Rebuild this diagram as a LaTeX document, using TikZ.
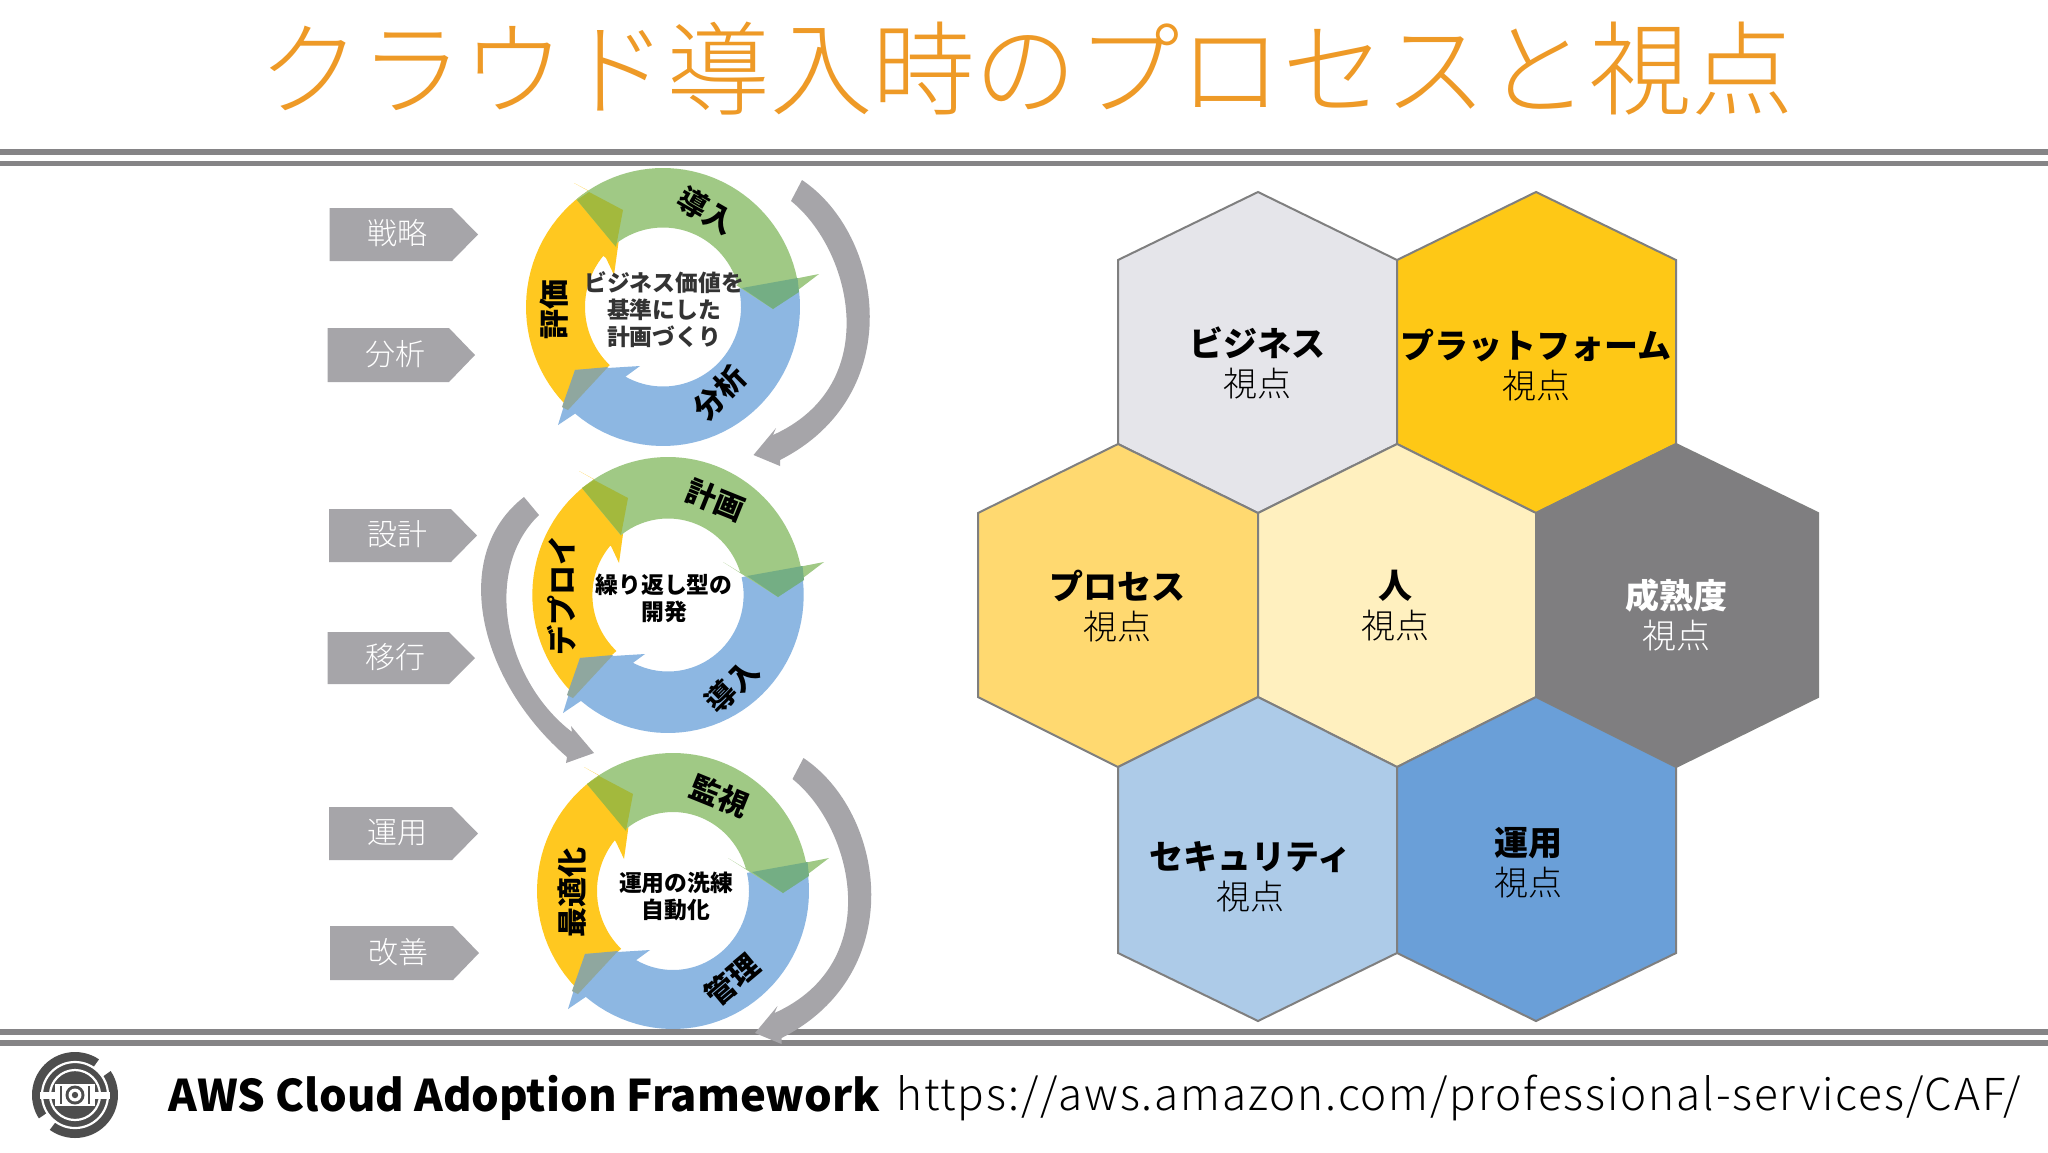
\documentclass[tikz,border=0pt]{standalone}
\usepackage{fontspec}
\setmainfont{Noto Sans CJK JP}
\newfontfamily\jplight{Noto Sans CJK JP Light}
\newfontfamily\jpurl[LetterSpace=4.3]{Noto Sans CJK JP Light}
\definecolor{ringG}{HTML}{A0C985}
\definecolor{ringB}{HTML}{8DB7E2}
\definecolor{ringY}{HTML}{FFC820}
\definecolor{ovGY}{HTML}{A3B93D}
\definecolor{ovGB}{HTML}{74AE84}
\definecolor{ovBY}{HTML}{8FA79F}
\definecolor{arrGray}{HTML}{A6A5A9}
\definecolor{ruleGray}{HTML}{858486}
\definecolor{hexLine}{HTML}{7F7F7F}
\definecolor{titleOr}{HTML}{EE9A27}
\definecolor{logoDark}{HTML}{4D4D4D}
\tikzset{
  chevtext/.style={inner sep=0pt,text=white,font=\jplight\fontsize{15}{18}\selectfont},
  ringlabel/.style={inner sep=0pt,text=black,font=\bfseries\fontsize{15}{17}\selectfont},
  ringcenter/.style={inner sep=0pt,align=center,font=\bfseries\fontsize{11.4}{13.5}\selectfont},
  hextext/.style={inner sep=0pt,align=center,text=black,font=\fontsize{17}{20}\selectfont},
  hexfill/.style={draw=hexLine,line width=1pt,line join=miter},
  ruleline/.style={fill=ruleGray,draw=none},
}
% chevron: name,x0,xflat,xtip,ytop,ybottom,text
\newcommand{\chevbox}[7]{%
  \fill[arrGray] (#2,#5) -- (#3,#5) -- (#4,{(#5+#6)/2}) -- (#3,#6) -- (#2,#6) -- cycle;
  \node[chevtext] (#1) at ({(#2+#3)/2+7},{(#5+#6)/2-1}) {#7};
}
% ring: cx,cy,rx,ry,irx,iry,green head inner side
\newcommand{\cyclering}[7]{%
\begin{scope}[shift={(#1,#2)}]
  \fill[ringY] (-101,100) -- plot[domain=135.7:236.9,samples=30] ({#3*cos(\x)},{#4*sin(\x)})
     -- (-89,-124) -- (-40,-97) -- (-49,-32) -- (-57,-49)
     -- plot[domain=220:133,samples=30] ({#5*cos(\x)},{#6*sin(\x)}) -- cycle;
  \fill[ringB] (79,-19) -- (134.5,-29) -- plot[domain=-6.2:129.9,samples=40] ({#3*cos(\x)},{#4*sin(\x)})
     -- (-105,118) -- (-88,63) -- (-23,59) -- (-38,70)
     -- plot[domain=118.9:-13.3,samples=40] ({#5*cos(\x)},{#6*sin(\x)}) -- cycle;
  \fill[ringG] (-86,-107) -- plot[domain=230.8:348.1,samples=40] ({#3*cos(\x)},{#4*sin(\x)})
     -- (156,-33) -- (110,2) #7
     -- plot[domain=343.5:231.4,samples=40] ({#5*cos(\x)},{#6*sin(\x)}) -- cycle;
  \fill[ovGY] (-86,-107) -- (-74,-115) -- (-40,-97) -- (-47,-60) -- cycle;
  \fill[ovGB] (79,-19) -- (134.5,-29) -- (136,-15) -- (110,2) -- cycle;
  \fill[ovBY] (-55,60) -- (-88,63) -- (-101,100) -- (-95,103) -- cycle;
\end{scope}}
\begin{document}
\begin{tikzpicture}[x=0.5pt,y=-0.5pt]
\useasboundingbox (0,0) rectangle (2048,1152);
\fill[white] (0,0) rectangle (2048,1152);

% title
\node[inner sep=0pt,text=titleOr,font=\jplight\fontsize{51.2}{56}\selectfont] (title) at (1026,69) {クラウド導入時のプロセスと視点};

% rules
\fill[ruleline] (0,149) rectangle (2048,155);
\fill[ruleline] (0,160.5) rectangle (2048,166);
\fill[ruleline] (0,1029) rectangle (2048,1034.5);
\fill[ruleline] (0,1040) rectangle (2048,1046);

% chevrons
\chevbox{c1}{329.5}{452}{478}{208}{261}{戦略}
\chevbox{c2}{327.5}{449}{475}{328}{382}{分析}
\chevbox{c3}{329}{451}{477}{509}{562}{設計}
\chevbox{c4}{327.5}{449}{475}{632}{684}{移行}
\chevbox{c5}{329}{452}{478}{807}{860}{運用}
\chevbox{c6}{330}{453}{479}{926}{980}{改善}

% rings
\cyclering{663}{307}{137}{139}{78}{79.5}{-- (73,-22)}
\cyclering{668}{595}{135.7}{138}{75.6}{76.5}{-- (55,-33) -- (73,-22)}
\cyclering{673}{891}{136}{138}{76}{79}{-- (55,-33) -- (73,-22)}

% big gray arrows
\fill[arrGray] (802,180) .. controls (884,235) and (908,395) .. (780,460) -- (780,466) -- (753.5,455) -- (776,428) -- (773,435)
   .. controls (884,385) and (852,250) .. (791,201) -- cycle;
\begin{scope}[shift={(1.5,578)}]
\fill[arrGray] (802,180) .. controls (884,235) and (908,395) .. (780,460) -- (780,466) -- (753.5,455) -- (776,428) -- (773,435)
   .. controls (884,385) and (852,250) .. (791,201) -- cycle;
\end{scope}
\fill[arrGray] (524,497) .. controls (449,555) and (478,680) .. (567,757) -- (566,763) -- (594,753) -- (571,726) -- (572,732)
   .. controls (504,680) and (482,570) .. (539,515) -- cycle;

% ring texts
\node[ringcenter,text=black!80] (r1c) at (664,310) {ビジネス価値を\\基準にした\\計画づくり};
\node[ringcenter,text=black] (r2c) at (664,598) {繰り返し型の\\開発};
\node[ringcenter,text=black] (r3c) at (676,896) {運用の洗練\\自動化};
\node[ringlabel,rotate=-30] (r1a) at (706,211) {導入};
\node[ringlabel,rotate=90] (r1b) at (554.5,309) {評価};
\node[ringlabel,rotate=45] (r1d) at (720,393) {分析};
\node[ringlabel,rotate=-22] (r2a) at (716,500) {計画};
\node[ringlabel,rotate=90] (r2b) at (562,595) {デプロイ};
\node[ringlabel,rotate=45] (r2d) at (732,686) {導入};
\node[ringlabel,rotate=-22] (r3a) at (720,796) {監視};
\node[ringlabel,rotate=90] (r3b) at (572,892) {最適化};
\node[ringlabel,rotate=40] (r3d) at (732,980) {管理};

% hexagons
\fill[hexfill,fill={rgb,255:red,229;green,229;blue,234}] (1258,192) -- (1397,260) -- (1397,444) -- (1258,513) -- (1118,444) -- (1118,260) -- cycle;
\fill[hexfill,fill={rgb,255:red,254;green,200;blue,22}] (1536,192) -- (1676,260) -- (1676,444) -- (1536,513) -- (1397,444) -- (1397,260) -- cycle;
\fill[hexfill,fill={rgb,255:red,255;green,217;blue,112}] (1118,444) -- (1258,513) -- (1258,697) -- (1118,767) -- (978,697) -- (978,513) -- cycle;
\fill[hexfill,fill={rgb,255:red,255;green,240;blue,191}] (1397,444) -- (1536,513) -- (1536,697) -- (1397,767) -- (1258,697) -- (1258,513) -- cycle;
\fill[hexfill,fill={rgb,255:red,127;green,126;blue,128}] (1676,444) -- (1818,513) -- (1818,697) -- (1676,767) -- (1536,697) -- (1536,513) -- cycle;
\fill[hexfill,fill={rgb,255:red,173;green,203;blue,232}] (1258,697) -- (1397,767) -- (1397,953) -- (1258,1021) -- (1118,953) -- (1118,767) -- cycle;
\fill[hexfill,fill={rgb,255:red,106;green,159;blue,216}] (1536,697) -- (1676,767) -- (1676,953) -- (1536,1021) -- (1397,953) -- (1397,767) -- cycle;

\node[hextext] (h1) at (1257,363) {{\bfseries ビジネス}\\{\jplight 視点}};
\node[hextext] (h2) at (1536,365) {{\bfseries プラットフォーム}\\{\jplight 視点}};
\node[hextext] (h3) at (1117,606) {{\bfseries プロセス}\\{\jplight 視点}};
\node[hextext] (h4) at (1395,606) {{\bfseries 人}\\{\jplight 視点}};
\node[hextext,text=white] (h5) at (1676,615) {{\bfseries 成熟度}\\{\jplight 視点}};
\node[hextext] (h6) at (1250,877) {{\bfseries セキュリティ}\\{\jplight 視点}};
\node[hextext] (h7) at (1528,863) {{\bfseries 運用}\\{\jplight 視点}};

% logo
\begin{scope}[shift={(75,1095)}]
  \fill[logoDark] (0,0) circle (43);
  \draw[white,line width=6pt] plot[domain=-56:-34,samples=10] ({39.5*cos(\x)},{39.5*sin(\x)});
  \draw[white,line width=6pt] plot[domain=126:147,samples=10] ({39.5*cos(\x)},{39.5*sin(\x)});
  \draw[white,line width=1.1pt] (0,0) circle (33);
  \draw[white,line width=1.1pt] (0,0) circle (25);
  \fill[white] (-35,-3.5) rectangle (-20,3.5);
  \fill[white] (20,-3.5) rectangle (35,3.5);
  \fill[white] (-20,-11) rectangle (20,11);
  \fill[logoDark] (-15,-9) rectangle (-13,9);
  \fill[logoDark] (13,-9) rectangle (15,9);
  \fill[logoDark] (0,0) circle (9.5);
  \fill[white] (0,0) circle (6.5);
  \fill[logoDark] (0,0) circle (3.2);
\end{scope}

% footer
\node[inner sep=0pt,anchor=west,text=black,font=\bfseries\fontsize{21.8}{26}\selectfont] (aws) at (168,1098) {AWS Cloud Adoption Framework};
\node[inner sep=0pt,anchor=west,text=black,font=\jpurl\fontsize{22}{26}\selectfont] (url) at (896,1098) {https://aws.amazon.com/professional-services/CAF/};
\end{tikzpicture}
\end{document}
